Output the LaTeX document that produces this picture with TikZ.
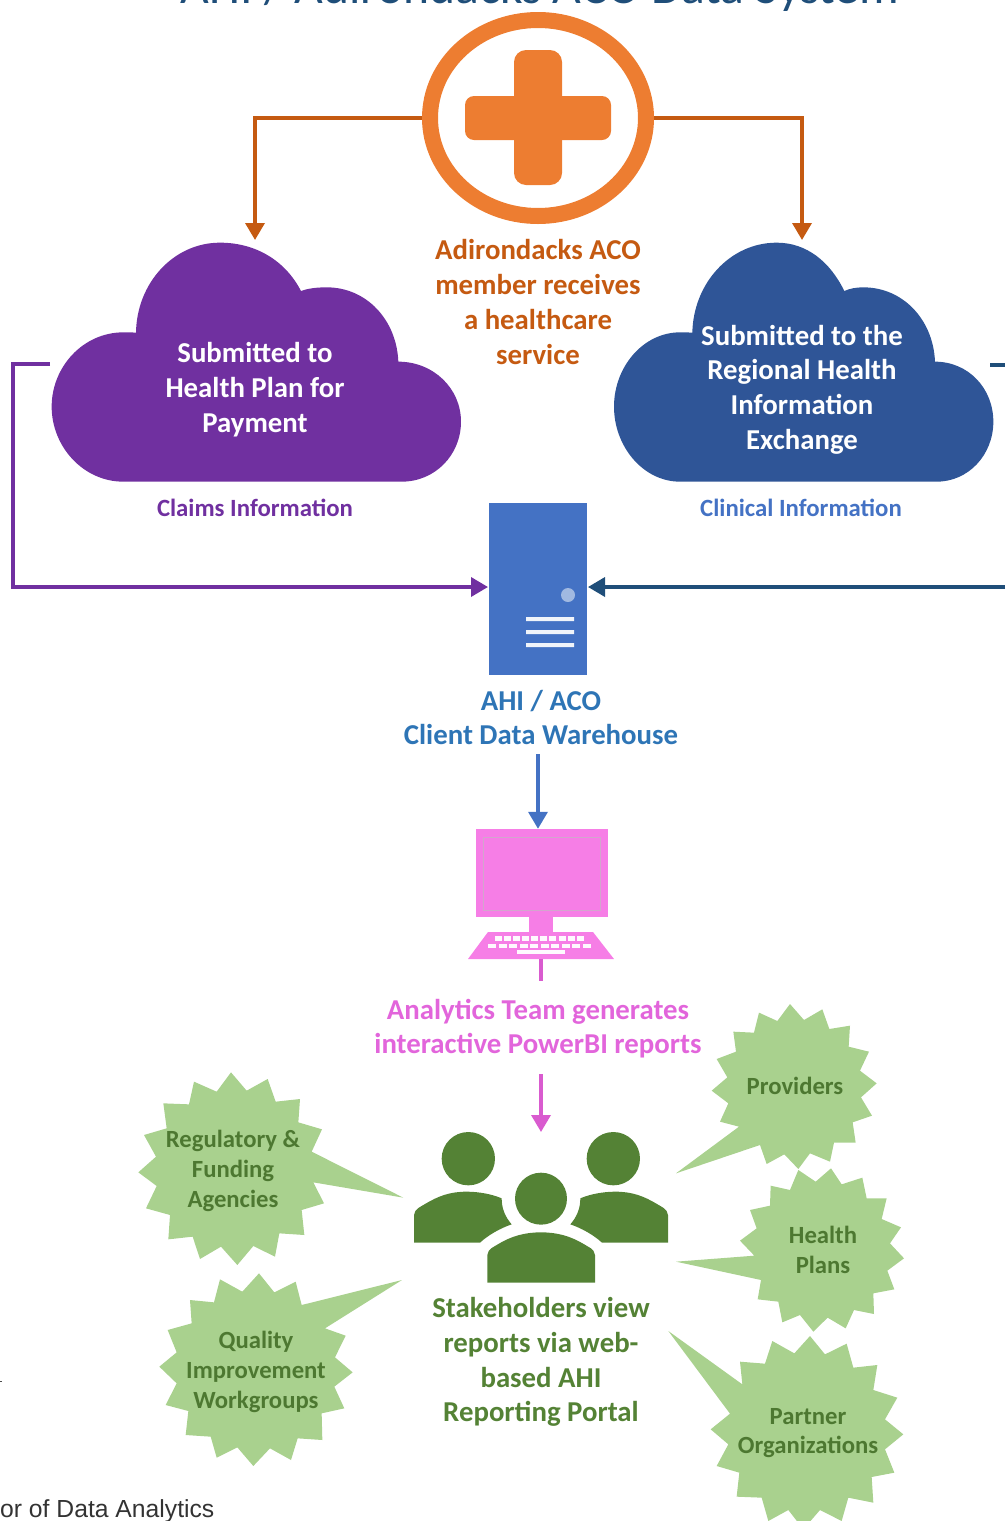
\documentclass[tikz,border=0pt]{standalone}
\usepackage{fontspec}
\setmainfont{Carlito}
\newfontfamily\capfont{Liberation Sans}
\usetikzlibrary{arrows.meta,shapes.geometric}
\definecolor{orangeA}{HTML}{ED7D31}
\definecolor{orangeB}{HTML}{C55A11}
\definecolor{purpleA}{HTML}{7030A0}
\definecolor{blueA}{HTML}{2F5597}
\definecolor{blueB}{HTML}{4472C4}
\definecolor{blueC}{HTML}{1F4E79}
\definecolor{blueD}{HTML}{2E75B6}
\definecolor{pinkA}{HTML}{F67EE6}
\definecolor{pinkB}{HTML}{D95BCF}
\definecolor{pinkT}{HTML}{E265DB}
\definecolor{greenA}{HTML}{A9D18E}
\definecolor{greenB}{HTML}{548235}
\tikzset{
  lbl/.style={font=\fontsize{28.8}{34.7}\selectfont\bfseries,align=center,inner sep=0pt},
  lblsm/.style={font=\fontsize{24.8}{29}\selectfont\bfseries,align=center,inner sep=0pt},
  startxt/.style={font=\fontsize{24.7}{29.6}\selectfont\bfseries,align=center,inner sep=0pt,text=greenB!92!black},
  starfill/.style={fill=greenA},
  conn/.style={line width=3.5pt},
  tip/.style={-{Triangle[length=17pt,width=19pt]}},
  orangeconn/.style={conn,tip,draw=orangeB},
}
\begin{document}
\begin{tikzpicture}[x=1pt,y=-1pt]
\useasboundingbox (0,0) rectangle (1005,1521);
\clip (0,0) rectangle (1005,1521);
% title (cut off by the top edge)
\node[anchor=base,font=\fontsize{49.6}{52}\selectfont,text=blueC,inner sep=0pt] (title) at (540,3) {AHI / Adirondacks ACO Data System};
% health icon
\node[draw=orangeA,ellipse,line width=16pt,minimum width=216pt,minimum height=196pt,inner sep=0pt] (ring) at (538,118) {};
\fill[orangeA,rounded corners=9pt] (465,96) rectangle (611,140);
\fill[orangeA,rounded corners=12pt] (514,50) rectangle (562,185);
% clouds
\begin{scope}[shift={(0,230)},scale=1/3]
\fill[purpleA] (370,755) .. controls (250,755) and (155,650) .. (155,530) .. controls (155,410) and (250,307) .. (370,307) .. controls (385,307) and (395,307) .. (408,308) .. controls (410,160) and (520,38) .. (660,38) .. controls (765,38) and (855,90) .. (903,183) .. controls (925,175) and (950,172) .. (980,172) .. controls (1100,172) and (1190,270) .. (1195,395) .. controls (1300,395) and (1383,475) .. (1383,575) .. controls (1383,675) and (1305,755) .. (1205,755) -- cycle;
\end{scope}
\begin{scope}[shift={(600,230)},scale=1/3]
\fill[blueA] (240,755) .. controls (130,755) and (42,650) .. (42,530) .. controls (42,410) and (130,307) .. (240,307) .. controls (255,307) and (265,307) .. (277,308) .. controls (280,160) and (390,38) .. (530,38) .. controls (620,38) and (690,95) .. (733,183) .. controls (750,175) and (770,172) .. (790,172) .. controls (910,172) and (1000,270) .. (1005,395) .. controls (1105,395) and (1180,475) .. (1180,575) .. controls (1180,675) and (1105,755) .. (1010,755) -- cycle;
\end{scope}
\coordinate (cloudPtop) at (255,240);
\coordinate (cloudBtop) at (802,240);
\coordinate (cloudPout) at (50,364);
\coordinate (cloudBout) at (990,365);
\coordinate (edgeTop) at (1005,365);
\coordinate (edgeMid) at (1005,587);
\draw[orangeconn] (ring.west) -| (cloudPtop);
\draw[orangeconn] (ring.east) -| (cloudBtop);
\node[lbl,text=orangeB] (member) at (538,302) {Adirondacks ACO\\member receives\\a healthcare\\service};
\node[lbl,text=white] (plan) at (255,389.5) {Submitted to\\Health Plan for\\Payment};
\node[lbl,text=white] (rhio) at (802,389.5) {Submitted to the\\Regional Health\\Information\\Exchange};
\node[lblsm,text=purpleA] (claims) at (255,508) {Claims Information};
\node[lblsm,text=blueB] (clinical) at (801,508) {Clinical Information};
% server
\node[fill=blueB,minimum width=98pt,minimum height=172pt,inner sep=0pt,outer sep=1pt] (server) at (538,589) {};
\fill[blueB!50!white] (568,595) circle (7pt);
\fill[white!92!blueB] (526,617) rectangle (574,621) (526,630) rectangle (574,634) (526,643) rectangle (574,647);
\draw[conn,tip,draw=purpleA] (cloudPout) -| (13,587) -- (server.west|-edgeMid);
\draw[conn,draw=blueC] (cloudBout) -- (edgeTop);
\draw[conn,tip,draw=blueC] (edgeMid) -- (server.east|-edgeMid);
\node[lbl,text=blueD] (dw) at (541,717.5) {AHI / ACO\\Client Data Warehouse};
% monitor
\node[fill=pinkA,minimum width=132pt,minimum height=88pt,inner sep=0pt] (monitor) at (542,873) {};
\draw[pinkA!55!gray!70!white,line width=1pt] (483.5,837.5) rectangle (600,910);
\fill[pinkA] (529,917) rectangle (553,932);
\fill[pinkA] (488,932) -- (593,932) -- (614,959) -- (468,959) -- cycle;
\foreach \i in {0,...,9} {
  \fill[white!95!pinkA] ({494.5+9.15*\i},936) rectangle +(7,4.5);
  \fill[white!95!pinkA] ({488+10.55*\i},943.5) rectangle +(8,4.5);
}
\fill[white!95!pinkA] (517,950) rectangle (565,954);
\coordinate (kbd) at (541,959);
\coordinate (kbdend) at (541,981);
\draw[conn,draw=pinkB] (kbd) -- (kbdend);
\draw[conn,tip,draw=blueB] (dw.south-|monitor.north) ++(-4,9) coordinate (dwout) -- (dwout|-monitor.north);
\node[lbl,text=pinkT] (analytics) at (538,1028.5) {Analytics Team generates\\interactive PowerBI reports};
% people
\begin{scope}[shift={(400,1120)},scale=1/3,greenB]
\fill (205,116) circle (80);
\fill (640,116) circle (80);
\fill (423,236) circle (78);
\fill (42,368) -- (42,285) .. controls (45,265) and (60,262) .. (75,252) .. controls (115,228) and (150,215) .. (200,215) .. controls (235,215) and (275,222) .. (305,235) .. controls (305,265) and (315,290) .. (335,313) .. controls (300,325) and (265,345) .. (240,368) -- cycle;
\fill (804,368) -- (804,285) .. controls (801,265) and (786,262) .. (771,252) .. controls (731,228) and (696,215) .. (646,215) .. controls (611,215) and (571,222) .. (541,235) .. controls (541,265) and (531,290) .. (511,313) .. controls (546,325) and (581,345) .. (606,368) -- cycle;
\fill (262,488) -- (262,405) .. controls (265,385) and (280,382) .. (295,372) .. controls (335,348) and (375,337) .. (423,337) .. controls (471,337) and (511,348) .. (551,372) .. controls (566,382) and (582,385) .. (585,405) -- (585,488) -- cycle;
\end{scope}
\coordinate (people) at (541,1132);
\draw[conn,tip,draw=pinkB] (analytics.south-|people) ++(0,16) -- (people);
\node[lbl,text=greenB] (stake) at (541,1362) {Stakeholders view\\reports via web-\\based AHI\\Reporting Portal};
% bursts
\begin{scope}[shift={(120,1060)},scale=1/3]
\fill[starfill] (333,37) -- (380,92) -- (443,57) -- (467,125) -- (540,117) -- (535,187) -- (606,208) -- (575,275) -- (850,413) -- (580,367) -- (612,430) -- (545,450) -- (553,525) -- (478,520) -- (465,590) -- (400,558) -- (352,615) -- (303,560) -- (240,597) -- (218,530) -- (145,538) -- (150,465) -- (78,445) -- (110,378) -- (55,337) -- (108,290) -- (72,225) -- (140,205) -- (130,130) -- (207,133) -- (222,65) -- (290,95) -- cycle;
\end{scope}
\begin{scope}[shift={(660,1000)},scale=1/3]
\fill[starfill] (390,12) -- (432,60) -- (487,28) -- (508,87) -- (570,77) -- (566,140) -- (627,155) -- (600,212) -- (650,250) -- (603,292) -- (636,347) -- (578,367) -- (587,428) -- (522,428) -- (510,485) -- (450,460) -- (415,507) -- (373,463) -- (320,492) -- (300,435) -- (48,520) -- (237,380) -- (180,365) -- (205,310) -- (155,272) -- (202,232) -- (170,177) -- (228,155) -- (220,95) -- (282,98) -- (297,38) -- (352,63) -- cycle;
\fill[starfill] (415,510) -- (467,545) -- (513,505) -- (545,553) -- (607,533) -- (620,595) -- (680,595) -- (665,657) -- (723,682) -- (690,730) -- (732,775) -- (682,812) -- (703,868) -- (640,880) -- (642,942) -- (582,930) -- (557,985) -- (503,953) -- (460,995) -- (420,945) -- (367,967) -- (355,905) -- (293,898) -- (303,840) -- (48,785) -- (283,767) -- (240,722) -- (290,685) -- (270,630) -- (330,617) -- (332,557) -- (390,570) -- cycle;
\end{scope}
\begin{scope}[shift={(0,1270)},scale=1/3]
\fill[starfill] (777,10) -- (823,67) -- (887,35) -- (905,105) -- (1206,30) -- (975,175) -- (1037,197) -- (1005,262) -- (1058,307) -- (1003,350) -- (1033,415) -- (965,430) -- (967,510) -- (893,505) -- (873,570) -- (810,535) -- (760,588) -- (712,532) -- (650,563) -- (632,500) -- (557,495) -- (565,423) -- (497,405) -- (530,340) -- (478,290) -- (530,247) -- (503,180) -- (575,160) -- (570,90) -- (642,97) -- (660,28) -- (727,65) -- cycle;
\end{scope}
\begin{scope}[shift={(660,1321)},scale=1/3]
\fill[starfill] (450,45) -- (495,100) -- (560,68) -- (580,140) -- (652,132) -- (640,207) -- (712,230) -- (675,295) -- (730,340) -- (675,385) -- (703,455) -- (635,468) -- (640,545) -- (565,530) -- (545,600) -- (480,567) -- (430,625) -- (385,567) -- (325,600) -- (305,530) -- (230,527) -- (238,455) -- (170,435) -- (205,370) -- (152,325) -- (210,278) -- (25,30) -- (247,190) -- (240,122) -- (315,128) -- (337,60) -- (403,97) -- cycle;
\end{scope}
\node[startxt] (reg) at (233,1171) {Regulatory \&\\Funding\\Agencies};
\node[startxt] (qual) at (256,1372) {Quality\\Improvement\\Workgroups};
\node[startxt] (prov) at (795,1086) {Providers};
\node[startxt] (hp) at (823,1250) {Health\\Plans};
\node[startxt] (part) at (808,1433) {Partner\\Organizations};
% stray mark and caption fragment
\fill[black!70] (0,1380.5) rectangle (2,1381.5);
\node[anchor=base west,font=\capfont\fontsize{24.7}{28}\selectfont,text=black!80,inner sep=0pt] (caption) at (0,1517) {or of Data Analytics};
\end{tikzpicture}
\end{document}
